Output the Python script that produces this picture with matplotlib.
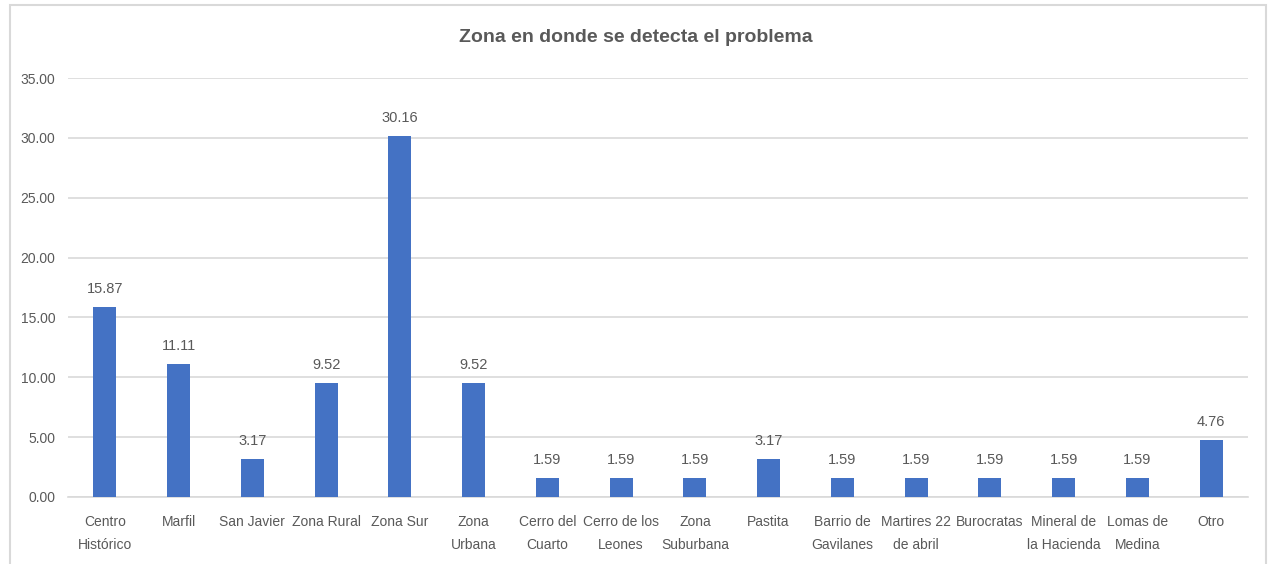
import matplotlib
matplotlib.use('Agg')
import matplotlib.pyplot as plt
from matplotlib.patches import Rectangle
import numpy as np

plt.rcParams['font.family'] = ['Liberation Sans', 'DejaVu Sans']

# data
zonas = ['Centro\nHistórico', 'Marfil', 'San Javier', 'Zona Rural', 'Zona Sur',
         'Zona\nUrbana', 'Cerro del\nCuarto', 'Cerro de los\nLeones', 'Zona\nSuburbana',
         'Pastita', 'Barrio de\nGavilanes', 'Martires 22\nde abril', 'Burocratas',
         'Mineral de\nla Hacienda', 'Lomas de\nMedina', 'Otro']
porcentajes = [15.87, 11.11, 3.17, 9.52, 30.16, 9.52, 1.59, 1.59, 1.59,
               3.17, 1.59, 1.59, 1.59, 1.59, 1.59, 4.76]
yticks = [0, 5, 10, 15, 20, 25, 30, 35]

gris = '#595959'
azul = '#4472C4'

fig = plt.figure(figsize=(12.72, 5.64), dpi=100)
# chart frame
fig.patches.append(Rectangle((10/1272, -0.05), 1256/1272, 1.05 - 5/564,
                             transform=fig.transFigure, fill=False,
                             edgecolor='#D9D9D9', linewidth=1.5))

ax = fig.add_axes([68/1272, 1 - 497/564, 1180/1272, 419/564])
x = np.arange(len(zonas))
bars = ax.bar(x, porcentajes, width=0.31, color=azul, zorder=3)

for xi, v in zip(x, porcentajes):
    ax.text(xi, v + 0.9, '%.2f' % v, ha='center', va='bottom',
            fontsize=10.5, color=gris)

ax.set_xlim(-0.5, len(zonas) - 0.5)
ax.set_ylim(0, 35)
ax.set_yticks(yticks)
ax.set_yticklabels(['%.2f' % t for t in yticks])
ax.set_xticks(x)
ax.set_xticklabels(zonas, linespacing=1.85)
ax.tick_params(axis='both', length=0, labelsize=10, labelcolor=gris)
ax.tick_params(axis='y', pad=9)
ax.tick_params(axis='x', pad=13)
ax.grid(axis='y', color='#D9D9D9', linewidth=1.2, zorder=0)
for s in ['top', 'right', 'left']:
    ax.spines[s].set_visible(False)
ax.spines['bottom'].set_color('#D9D9D9')
ax.spines['bottom'].set_linewidth(1.2)

fig.text(0.5, 1 - 38/564, 'Zona en donde se detecta el problema', ha='center',
         va='center', fontsize=14, fontweight='bold', color=gris)

fig.savefig('out.png', dpi=100)
